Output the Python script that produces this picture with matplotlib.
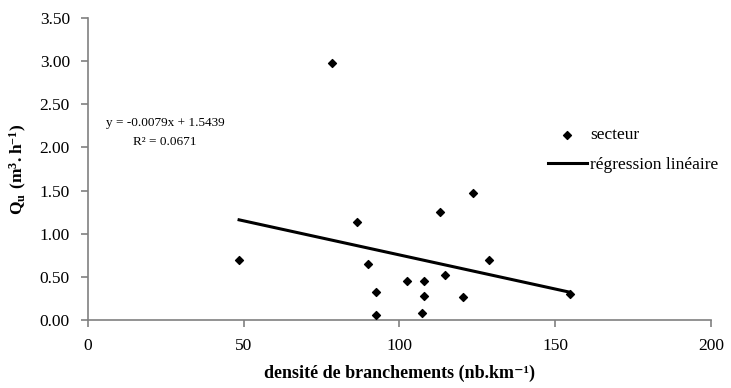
import matplotlib
matplotlib.use("Agg")
import matplotlib.pyplot as plt
import numpy as np

plt.rcParams['font.family'] = ['Liberation Serif', 'DejaVu Serif']
plt.rcParams['mathtext.fontset'] = 'custom'
plt.rcParams['mathtext.rm'] = 'Liberation Serif'
plt.rcParams['mathtext.bf'] = 'Liberation Serif:bold'

# branch density (nb/km) and unit flow Qu (m3/h) per sector
densite = [48.5, 78.3, 86.3, 90.0, 92.5, 92.5, 102.4, 108.0, 108.0, 107.3,
           113.0, 114.7, 120.4, 123.5, 128.6, 154.7]
qu = [0.69, 2.98, 1.14, 0.65, 0.32, 0.06, 0.45, 0.45, 0.28, 0.08,
      1.25, 0.52, 0.27, 1.47, 0.69, 0.30]

# linear fit coefficients
pente = -0.0079
ordonnee = 1.5439
r2 = 0.0671

xticks = [0, 50, 100, 150, 200]
yticks = [0.0, 0.5, 1.0, 1.5, 2.0, 2.5, 3.0, 3.5]

fig = plt.figure(figsize=(7.31, 3.88), dpi=100)
ax = fig.add_axes([0.1204, 0.1753, 0.8522, 0.7783])

ax.scatter(densite, qu, marker='D', s=16, color='black', zorder=3, label='secteur')
xr = np.array([min(densite), max(densite)])
ax.plot(xr, pente * xr + ordonnee, color='black', lw=2.2, label='régression linéaire')

ax.set_xlim(0, 200)
ax.set_ylim(0, 3.5)
ax.set_xticks(xticks)
ax.set_yticks(yticks)
ax.set_yticklabels([f"{v:.2f}" for v in yticks])
for s in ['top', 'right']:
    ax.spines[s].set_visible(False)
for s in ['left', 'bottom']:
    ax.spines[s].set_color('#808080')
    ax.spines[s].set_linewidth(1.2)
ax.tick_params(axis='both', colors='#808080', labelcolor='black', labelsize=12.5,
               length=5, width=1.2, direction='out')
ax.tick_params(axis='x', pad=8)
ax.tick_params(axis='y', pad=8)

ax.set_xlabel('densité de branchements (nb.km⁻¹)', fontsize=13,
              fontweight='bold', labelpad=8)
ax.set_ylabel('$\\mathbf{Q_u\\ (m^{3}{.}h^{-1})}$', fontsize=12.5, labelpad=8)

ax.text(0.226, 0.658, f'y = {pente:.4f}x + {ordonnee:.4f}\nR² = {r2:.4f}',
        transform=fig.transFigure, ha='center', va='center', fontsize=9.5,
        linespacing=1.75)

leg = ax.legend(loc='center left', bbox_to_anchor=(0.749, 0.613),
                bbox_transform=fig.transFigure, frameon=False, fontsize=12.5,
                handlelength=2.3, handletextpad=0.15, labelspacing=0.8,
                borderpad=0, borderaxespad=0)

fig.savefig('out.png', dpi=100)
